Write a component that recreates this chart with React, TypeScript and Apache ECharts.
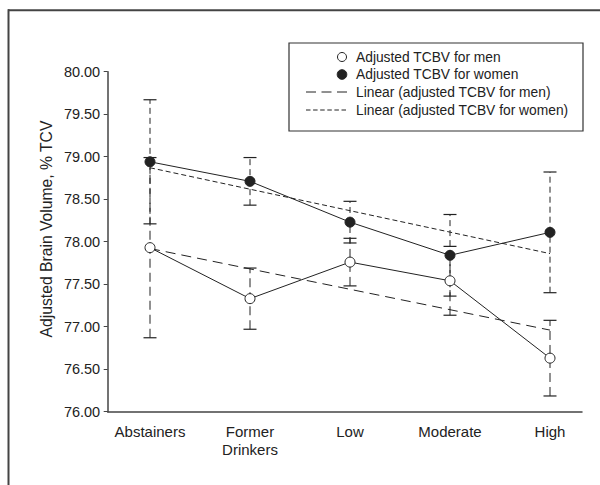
import React, { useEffect, useRef } from "react";
import * as echarts from "echarts";

const categories = ["Abstainers", "Former\nDrinkers", "Low", "Moderate", "High"];
const menValues = [77.93, 77.33, 77.76, 77.54, 76.63];
const menErrors = [1.06, 0.36, 0.28, 0.405, 0.445];
const womenValues = [78.94, 78.71, 78.23, 77.84, 78.11];
const womenErrors = [0.73, 0.28, 0.245, 0.48, 0.71];
const menTrend = [77.92, 76.96]; // at Abstainers and High
const womenTrend = [78.87, 77.86];
const yTicks = { min: 76, max: 80, interval: 0.5 };
const yAxisTitle = "Adjusted Brain Volume, % TCV";
const legendLabels = [
  "Adjusted TCBV for men",
  "Adjusted TCBV for women",
  "Linear (adjusted TCBV for men)",
  "Linear (adjusted TCBV for women)",
];

const FONT = "'Liberation Sans', Arial, Helvetica, sans-serif";
const INK = "#222";

export default function App() {
  const ref = useRef<HTMLDivElement>(null);
  useEffect(() => {
    if (!ref.current) return;
    const chart = echarts.init(ref.current, undefined, { renderer: "svg" });
    const xs = categories.map((_, i) => i);
    const errData = (vals: number[], errs: number[]) =>
      vals.map((v, i) => [xs[i], v - errs[i], v + errs[i]]);
    const errorSeries = (name: string, vals: number[], errs: number[], dash: number[]) => ({
      type: "custom",
      name,
      z: 1,
      data: errData(vals, errs),
      encode: { x: 0, y: [1, 2] },
      renderItem: (params: any, api: any) => {
        const x = api.value(0);
        const lo = api.coord([x, api.value(1)]);
        const hi = api.coord([x, api.value(2)]);
        const hw = 6.5;
        return {
          type: "group",
          children: [
            {
              type: "line",
              shape: { x1: lo[0], y1: lo[1], x2: hi[0], y2: hi[1] },
              style: { stroke: INK, lineWidth: 1, lineDash: dash },
            },
            {
              type: "line",
              shape: { x1: hi[0] - hw, y1: hi[1], x2: hi[0] + hw, y2: hi[1] },
              style: { stroke: INK, lineWidth: 1.2 },
            },
            {
              type: "line",
              shape: { x1: lo[0] - hw, y1: lo[1], x2: lo[0] + hw, y2: lo[1] },
              style: { stroke: INK, lineWidth: 1.2 },
            },
          ],
        };
      },
    });

    const legendX = 289, legendY = 43, legendW = 294, legendH = 88;
    const rowY = [57, 74.5, 92, 110];
    const textX = 356;

    chart.setOption({
      animation: false,
      backgroundColor: "#fff",
      grid: { left: 107.7, right: 18, top: 71.7, bottom: 73.3 },
      xAxis: {
        type: "value",
        min: -0.423,
        max: 4.32,
        splitLine: { show: false },
        axisTick: { show: false },
        axisLine: { show: true, onZero: false, lineStyle: { color: "#444", width: 1.5 } },
        axisLabel: {
          customValues: xs,
          formatter: (v: number) => categories[Math.round(v)] ?? "",
          color: INK,
          fontFamily: FONT,
          fontSize: 15,
          lineHeight: 18,
          margin: 11,
          verticalAlign: "top",
        },
      },
      yAxis: {
        type: "value",
        min: yTicks.min,
        max: yTicks.max,
        interval: yTicks.interval,
        splitLine: { show: false },
        axisLine: { show: true, onZero: false, lineStyle: { color: "#444", width: 1.5 } },
        axisTick: { show: true, length: 4, lineStyle: { color: "#444" } },
        axisLabel: {
          formatter: (v: number) => v.toFixed(2),
          color: INK,
          fontFamily: FONT,
          fontSize: 14.5,
          margin: 7.5,
        },
      },
      series: [
        errorSeries("men err", menValues, menErrors, [9, 5]),
        errorSeries("women err", womenValues, womenErrors, [6, 4]),
        {
          type: "line",
          name: "Linear men",
          z: 2,
          data: [[xs[0], menTrend[0]], [xs[xs.length - 1], menTrend[1]]],
          symbol: "none",
          lineStyle: { color: INK, width: 1, type: [10, 6] },
        },
        {
          type: "line",
          name: "Linear women",
          z: 2,
          data: [[xs[0], womenTrend[0]], [xs[xs.length - 1], womenTrend[1]]],
          symbol: "none",
          lineStyle: { color: INK, width: 1, type: [5, 3] },
        },
        {
          type: "line",
          name: "Adjusted TCBV for men",
          z: 3,
          data: menValues.map((v, i) => [xs[i], v]),
          symbol: "circle",
          symbolSize: 10,
          itemStyle: { color: "#fff", borderColor: INK, borderWidth: 1 },
          lineStyle: { color: INK, width: 1 },
        },
        {
          type: "line",
          name: "Adjusted TCBV for women",
          z: 3,
          data: womenValues.map((v, i) => [xs[i], v]),
          symbol: "circle",
          symbolSize: 10,
          itemStyle: { color: INK, borderColor: INK, borderWidth: 1 },
          lineStyle: { color: INK, width: 1 },
        },
      ],
      graphic: [
        { type: "line", shape: { x1: 8, y1: 10.3, x2: 600, y2: 10.3 }, style: { stroke: "#444", lineWidth: 2 } },
        { type: "line", shape: { x1: 8.5, y1: 9.3, x2: 8.5, y2: 485 }, style: { stroke: "#444", lineWidth: 2 } },
        {
          type: "text",
          x: 46.7,
          y: 229,
          rotation: Math.PI / 2,
          style: {
            text: yAxisTitle,
            fill: INK,
            font: `15.7px ${FONT}`,
            align: "center",
            verticalAlign: "middle",
          },
        },
        {
          type: "rect",
          shape: { x: legendX, y: legendY, width: legendW, height: legendH },
          style: { fill: "#fff", stroke: "#333", lineWidth: 1.2 },
          z: 10,
        },
        { type: "circle", shape: { cx: 342, cy: rowY[0], r: 4.5 }, style: { fill: "#fff", stroke: INK, lineWidth: 1 }, z: 11 },
        { type: "circle", shape: { cx: 342, cy: rowY[1], r: 4.8 }, style: { fill: INK, stroke: INK, lineWidth: 1 }, z: 11 },
        {
          type: "line",
          shape: { x1: 306, y1: rowY[2], x2: 347, y2: rowY[2] },
          style: { stroke: INK, lineWidth: 1, lineDash: [10, 5.5] },
          z: 11,
        },
        {
          type: "line",
          shape: { x1: 306, y1: rowY[3], x2: 346, y2: rowY[3] },
          style: { stroke: INK, lineWidth: 1, lineDash: [4.5, 2.6] },
          z: 11,
        },
        ...legendLabels.map((t, i) => ({
          type: "text",
          x: textX,
          y: rowY[i],
          z: 11,
          style: {
            text: t,
            fill: INK,
            font: `13.8px ${FONT}`,
            verticalAlign: "middle",
          },
        })),
      ],
    });
    return () => chart.dispose();
  }, []);
  return (
    <div
      ref={ref}
      style={{ position: "fixed", left: 0, top: 0, width: 600, height: 485 }}
    />
  );
}
